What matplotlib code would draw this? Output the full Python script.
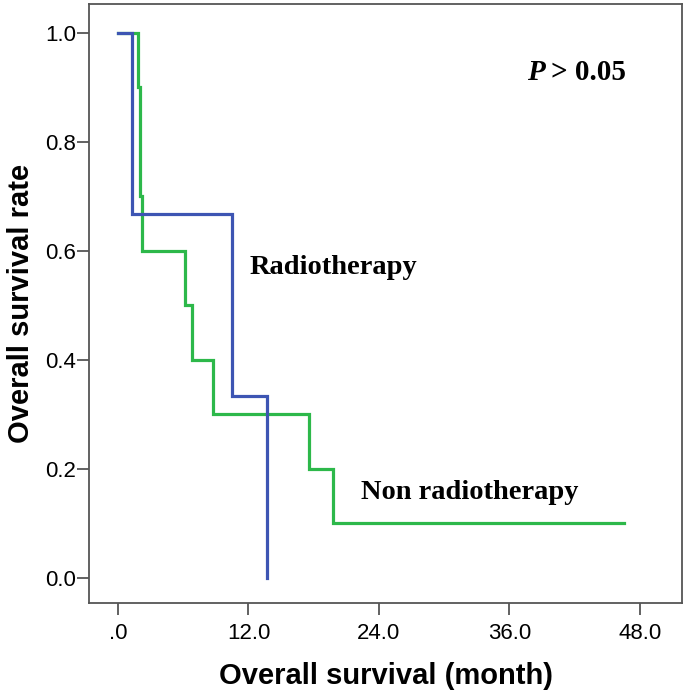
import matplotlib
matplotlib.use("Agg")
import matplotlib.pyplot as plt

# Kaplan-Meier step data (time in months, survival after event)
radio_times = [0.0, 1.3, 10.5, 13.7]
radio_surv = [1.0, 0.667, 0.333, 0.0]

nonradio_times = [0.0, 1.8, 2.0, 2.05, 2.2, 6.15, 6.8, 8.7, 17.6, 19.8, 46.6]
nonradio_surv = [1.0, 0.9, 0.8, 0.7, 0.6, 0.5, 0.4, 0.3, 0.2, 0.1, 0.1]

x_ticks = [0, 12, 24, 36, 48]
x_ticklabels = [".0", "12.0", "24.0", "36.0", "48.0"]
y_ticks = [0.0, 0.2, 0.4, 0.6, 0.8, 1.0]
y_ticklabels = ["0.0", "0.2", "0.4", "0.6", "0.8", "1.0"]

blue = "#3d55b3"
green = "#2db84a"

fig = plt.figure(figsize=(6.89, 6.95), dpi=100)
ax = fig.add_axes([0.1292, 0.1324, 0.8607, 0.8619])

ax.step(nonradio_times, nonradio_surv, where="post", color=green, lw=2.3,
        solid_joinstyle="miter", zorder=2)
ax.step(radio_times, radio_surv, where="post", color=blue, lw=2.3,
        solid_joinstyle="miter", zorder=3)

ax.set_xlim(-2.67, 51.9)
ax.set_ylim(-0.046, 1.053)

ax.set_xticks(x_ticks)
ax.set_xticklabels(x_ticklabels)
ax.set_yticks(y_ticks)
ax.set_yticklabels(y_ticklabels)

for s in ax.spines.values():
    s.set_color("#555555")
    s.set_linewidth(1.3)

ax.tick_params(axis="both", direction="out", length=8.5, width=1.3, color="#555555",
               labelsize=16, pad=1)
for lab in ax.get_xticklabels() + ax.get_yticklabels():
    lab.set_fontfamily("Liberation Sans")
ax.tick_params(axis="x", pad=6)

ax.set_xlabel("Overall survival (month)", fontsize=21, fontweight="bold",
              fontfamily="Liberation Sans", labelpad=13)
ax.set_ylabel("Overall survival rate", fontsize=21, fontweight="bold",
              fontfamily="Liberation Sans", labelpad=7)

ax.text(19.8, 0.569, "Radiotherapy", fontsize=20.5, fontweight="bold",
        fontfamily="Liberation Serif", ha="center", va="center")
ax.text(32.4, 0.156, "Non radiotherapy", fontsize=20.5, fontweight="bold",
        fontfamily="Liberation Serif", ha="center", va="center")
ax.text(37.6, 0.928, "P", fontsize=21, fontweight="bold", fontstyle="italic",
        fontfamily="Liberation Serif", ha="left", va="center")
ax.text(39.8, 0.928, "> 0.05", fontsize=21, fontweight="bold",
        fontfamily="Liberation Serif", ha="left", va="center")

fig.savefig("out.png", dpi=100)
